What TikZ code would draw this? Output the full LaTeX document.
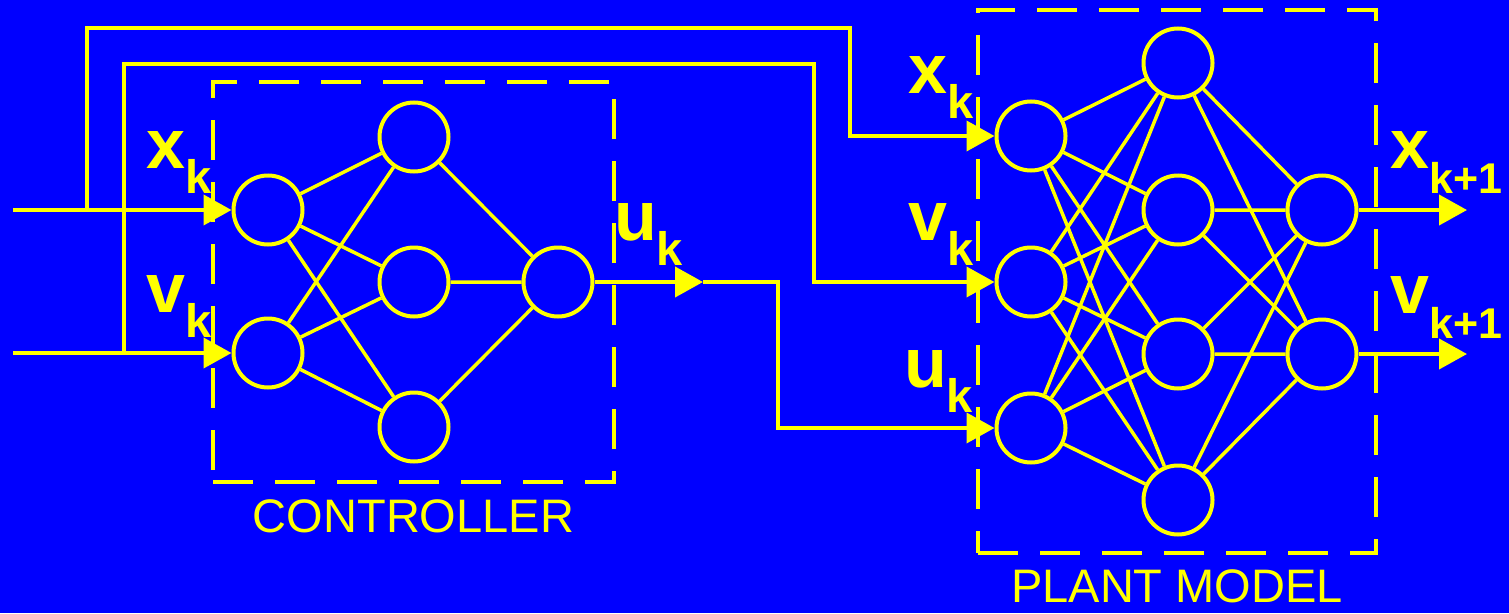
\documentclass[tikz,border=0pt]{standalone}
\usepackage{fontspec}
\setmainfont{Liberation Sans}
\usetikzlibrary{arrows.meta,positioning}
\definecolor{panel}{HTML}{0000FF}
\definecolor{signal}{HTML}{FFFF00}
\newcommand{\sigtext}[3][47]{#2\raisebox{-25pt}{\fontsize{#1}{#1}\selectfont #3}}
\tikzset{
  neuron/.style={
    circle, draw=signal, line width=4pt,
    minimum size=69pt, inner sep=0pt
  },
  framebox/.style={
    rectangle, draw=signal, line width=4pt,
    dash pattern=on 40pt off 22pt, inner sep=0pt
  },
  link/.style={draw=signal, line width=3.5pt},
  wire/.style={draw=signal, line width=4pt, line join=miter},
  sigarrow/.style={wire, -{Triangle[length=28pt, width=30pt]}},
  siglabel/.style={
    text=signal, font=\fontsize{70}{70}\selectfont\bfseries,
    inner sep=0pt, anchor=base west
  },
  captionnode/.style={
    text=signal, font=\fontsize{47}{47}\selectfont, inner sep=0pt
  },
}
\begin{document}
\begin{tikzpicture}[x=1pt, y=-1pt]
  \path[use as bounding box, fill=panel] (0,0) rectangle (1509,613);

  % dashed frames
  \node[framebox, minimum width=401pt, minimum height=400pt] (cbox) at (413.5,282) {};
  \node[framebox, minimum width=398pt, minimum height=543pt] (pbox) at (1177,281.5) {};
  \node[captionnode, below=15pt of cbox] (ccap) {CONTROLLER};
  \node[captionnode, below=14pt of pbox] (pcap) {PLANT MODEL};

  % controller net
  \node[neuron] (cx) at (268,210) {};
  \node[neuron] (cv) at (268,353) {};
  \node[neuron] (ch1) at (414,137) {};
  \node[neuron] (ch2) at (414,282) {};
  \node[neuron] (ch3) at (414,427) {};
  \node[neuron] (cu) at (558,282) {};

  \draw[link] (cx) -- (ch1) (cx) -- (ch2) (cx) -- (ch3);
  \draw[link] (cv) -- (ch1) (cv) -- (ch2) (cv) -- (ch3);
  \draw[link] (ch1) -- (cu) (ch2) -- (cu) (ch3) -- (cu);

  % plant model net
  \node[neuron] (pi1) at (1031,136) {};
  \node[neuron] (pi2) at (1031,282) {};
  \node[neuron] (pi3) at (1031,428) {};
  \node[neuron] (ph1) at (1178,63) {};
  \node[neuron] (ph2) at (1178,210) {};
  \node[neuron] (ph3) at (1178,354) {};
  \node[neuron] (ph4) at (1178,500) {};
  \node[neuron] (po1) at (1322,210) {};
  \node[neuron] (po2) at (1322,354) {};

  \draw[link] (pi1) -- (ph1) (pi1) -- (ph2) (pi1) -- (ph3) (pi1) -- (ph4);
  \draw[link] (pi2) -- (ph1) (pi2) -- (ph2) (pi2) -- (ph3) (pi2) -- (ph4);
  \draw[link] (pi3) -- (ph1) (pi3) -- (ph2) (pi3) -- (ph3) (pi3) -- (ph4);
  \draw[link] (ph1) -- (po1) (ph2) -- (po1) (ph3) -- (po1) (ph4) -- (po1);
  \draw[link] (ph1) -- (po2) (ph2) -- (po2) (ph3) -- (po2) (ph4) -- (po2);

  % signal wires
  \coordinate (xsrc) at (13,210);
  \coordinate (vsrc) at (13,353);
  \coordinate (xtap) at (87,210);
  \coordinate (vtap) at (124,353);
  \coordinate (xturn) at (850,28);
  \coordinate (vturn) at (814,64);
  \coordinate (umid) at (703,282);
  \coordinate (uturn) at (778,428);
  \coordinate (xnext) at (1467,210);
  \coordinate (vnext) at (1467,354);

  \draw[sigarrow] (xsrc) -- (cx);
  \draw[sigarrow] (vsrc) -- (cv);
  \draw[sigarrow] (xtap) |- (xturn) |- (pi1);
  \draw[sigarrow] (vtap) |- (vturn) |- (pi2);
  \draw[sigarrow] (cu) -- (umid);
  \draw[sigarrow] (umid) -| (uturn) -- (pi3);
  \draw[sigarrow] (po1) -- (xnext);
  \draw[sigarrow] (po2) -- (vnext);

  % signal labels
  \node[siglabel] (lxc) at (146,168) {\sigtext{x}{k}};
  \node[siglabel] (lvc) at (146,312) {\sigtext{v}{k}};
  \node[siglabel] (luc) at (614,240) {\sigtext{u}{k}};
  \node[siglabel] (lxp) at (908,93) {\sigtext{x}{k}};
  \node[siglabel] (lvp) at (908,240) {\sigtext{v}{k}};
  \node[siglabel] (lup) at (904,387) {\sigtext{u}{k}};
  \node[siglabel] (lxn) at (1390,168) {\sigtext[43]{x}{k+1}};
  \node[siglabel] (lvn) at (1390,313) {\sigtext[43]{v}{k+1}};
\end{tikzpicture}
\end{document}
